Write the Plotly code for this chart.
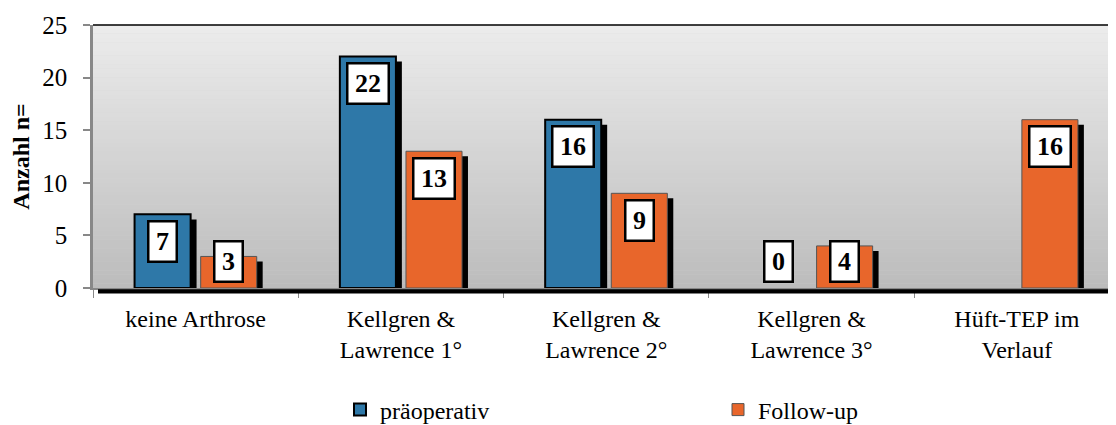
import plotly.graph_objects as go

categories = ["keine Arthrose", "Kellgren &<br>Lawrence 1°", "Kellgren &<br>Lawrence 2°",
              "Kellgren &<br>Lawrence 3°", "Hüft-TEP im<br>Verlauf"]
praeoperativ = [7, 22, 16, 0, None]
follow_up = [3, 13, 9, 4, 16]
y_ticks = [0, 5, 10, 15, 20, 25]

BLUE = "#2E78A8"
ORANGE = "#E8662B"
FONT = "Liberation Serif, Times New Roman, serif"

BAR_W = 0.273
HALF = 0.161
SHADOW_DX = 0.029
SHADOW_DY = 0.48

# page body has an 8px margin; the figure is sized to fill the rest of the window
FIG_W, FIG_H = 1108, 417
PLOT_L, PLOT_T, PLOT_B = 85, 17, 137
PLOT_W = FIG_W - PLOT_L
PLOT_H = FIG_H - PLOT_T - PLOT_B
CAT_PX = 205.3

fig = go.Figure()

def shadow(vals):
    return [None if v is None or v == 0 else max(v - SHADOW_DY, 0) for v in vals]

def line_w(vals, w):
    return [0 if (v is None or v == 0) else w for v in vals]

fig.add_trace(go.Bar(x=categories, y=shadow(praeoperativ), width=BAR_W,
                     offset=-HALF - BAR_W / 2 + SHADOW_DX, marker=dict(color="black", line=dict(width=0)),
                     showlegend=False, hoverinfo="skip"))
fig.add_trace(go.Bar(x=categories, y=shadow(follow_up), width=BAR_W,
                     offset=HALF - BAR_W / 2 + SHADOW_DX, marker=dict(color="black", line=dict(width=0)),
                     showlegend=False, hoverinfo="skip"))
fig.add_trace(go.Bar(x=categories, y=praeoperativ, width=BAR_W, offset=-HALF - BAR_W / 2,
                     name="präoperativ", legend="legend",
                     marker=dict(color=BLUE, line=dict(color="black", width=line_w(praeoperativ, 2)))))
fig.add_trace(go.Bar(x=categories, y=follow_up, width=BAR_W, offset=HALF - BAR_W / 2,
                     name="Follow-up", legend="legend2",
                     marker=dict(color=ORANGE, line=dict(color="#555555", width=line_w(follow_up, 1)))))

# value labels
annotations = []
for series, sign in ((praeoperativ, -1), (follow_up, 1)):
    for i, v in enumerate(series):
        if v is None:
            continue
        txt = str(v)
        annotations.append(dict(
            x=i + sign * HALF, xref="x", y=max(v - 2.56, 2.52), yref="y",
            text="<b>%s</b>" % txt, showarrow=False,
            font=dict(family=FONT, size=26, color="black"),
            bgcolor="white", bordercolor="black", borderwidth=2.5, borderpad=2,
            width=22 if len(txt) == 1 else 35, height=34,
        ))

# gradient background
shapes = []
N = 60
top = (236, 236, 236)
bot = (188, 188, 188)
for k in range(N):
    t = (k + 0.5) / N
    c = tuple(int(round(top[j] + (bot[j] - top[j]) * t)) for j in range(3))
    shapes.append(dict(type="rect", xref="paper", yref="paper", x0=0, x1=1,
                       y0=1 - (k + 1) / N, y1=1 - k / N + 0.001,
                       fillcolor="rgb(%d,%d,%d)" % c, line=dict(width=0), layer="below"))
# top border
shapes.append(dict(type="line", xref="paper", yref="paper", x0=0, x1=1, y0=1, y1=1,
                   line=dict(color="black", width=1.5)))
# floor shadow
shapes.append(dict(type="rect", xref="paper", yref="paper", x0=5 / PLOT_W, x1=1,
                   y0=-5.5 / PLOT_H, y1=-1.2 / PLOT_H, fillcolor="black", line=dict(width=0)))

leg_common = dict(orientation="h", yref="container", y=1 - 402 / FIG_H, yanchor="middle",
                  xref="container", xanchor="left", font=dict(size=24, family=FONT),
                  itemwidth=30, bgcolor="rgba(0,0,0,0)", borderwidth=0)

fig.update_layout(
    width=FIG_W, height=FIG_H,
    margin=dict(l=PLOT_L, r=0, t=PLOT_T, b=PLOT_B, autoexpand=False),
    barmode="overlay",
    paper_bgcolor="white", plot_bgcolor="#d4d4d4",
    font=dict(family=FONT, size=24, color="black"),
    shapes=shapes, annotations=annotations,
    legend=dict(x=332 / FIG_W, **leg_common),
    legend2=dict(x=710 / FIG_W, **leg_common),
    showlegend=True,
)
fig.update_xaxes(type="category", range=[-0.5, -0.5 + PLOT_W / CAT_PX], automargin=False,
                 tickson="boundaries", ticks="outside", ticklen=8, tickcolor="#888888",
                 tickwidth=1, showline=True, linecolor="#888888", linewidth=1.5,
                 showgrid=False, tickfont=dict(size=24, family=FONT), zeroline=False,
                 ticklabelstandoff=8)
fig.update_yaxes(range=[0, 25], tickvals=y_ticks, ticks="outside", ticklen=7, automargin=False,
                 tickcolor="#888888", tickwidth=1.5, showline=True, linecolor="#888888",
                 linewidth=2.5, showgrid=False, zeroline=False, tickfont=dict(size=25, family=FONT),
                 ticklabelstandoff=11,
                 title=dict(text="<b>Anzahl n=</b>", font=dict(size=24, family=FONT), standoff=14))

fig.write_html("out.html")
